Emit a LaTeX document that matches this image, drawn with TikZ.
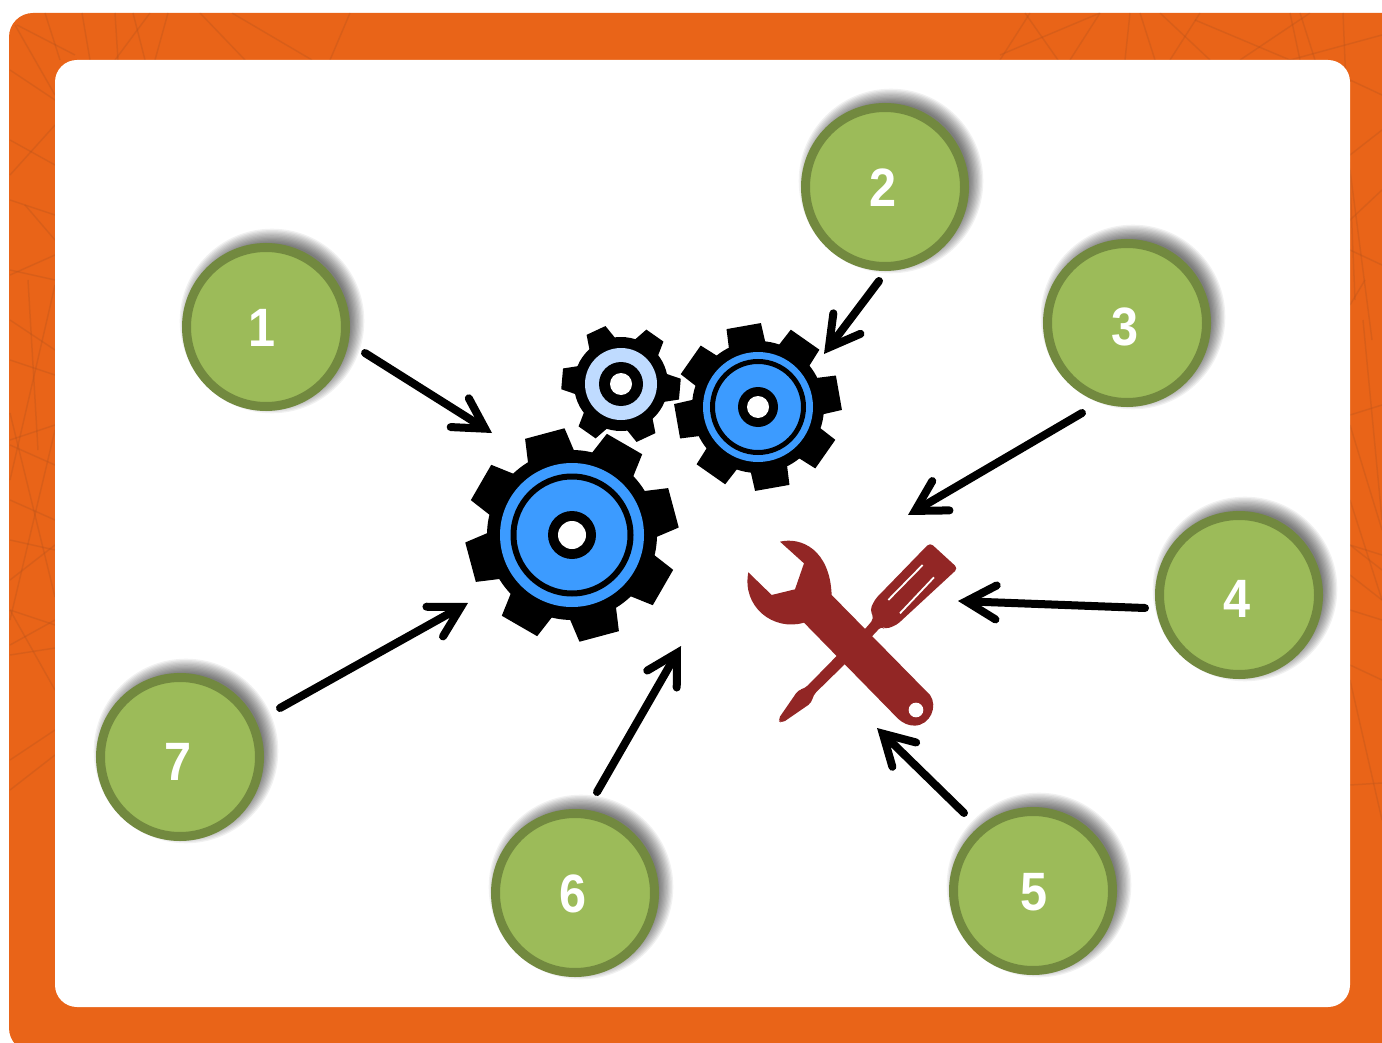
\documentclass[tikz,border=0pt]{standalone}
\usepackage{fontspec}
\setmainfont{Liberation Sans}
\usetikzlibrary{arrows.meta}

\definecolor{framecol}{HTML}{E96418}
\definecolor{scratchcol}{HTML}{B4521C}
\definecolor{ballfill}{HTML}{9CBB59}
\definecolor{ballline}{HTML}{72893F}
\definecolor{gearblue}{HTML}{3C9BFF}
\definecolor{gearpale}{HTML}{BFDBFF}
\definecolor{toolred}{HTML}{922625}

\tikzset{
	ball/.style={circle, draw=ballline, fill=ballfill, line width=9pt, minimum size=159pt, inner sep=0pt},
	digitlabel/.style={text=white, inner sep=0pt, font=\fontsize{54}{54}\selectfont\bfseries},
	arrowline/.style={line width=8pt, line cap=round, -{Straight Barb[length=30pt,width=34pt,line cap=round]}},
	scratch/.style={scratchcol, line width=1.5pt, opacity=.3}
}

% centre, root and tip radius, teeth, turn, half angles of a tooth
\newcommand{\gear}[8]{%
	\fill (#1,#2) circle (#3);
	\foreach \k in {1,...,#5}{
		\pgfmathsetmacro{\ang}{-(#6+(\k-1)*360/#5)}
		\fill[shift={(#1,#2)}] (\ang-#7:#3-1) -- (\ang-#8:#4) -- (\ang+#8:#4) -- (\ang+#7:#3-1) -- cycle;
	}
}

\begin{document}
\begin{tikzpicture}[x=1pt, y=-1pt]

\useasboundingbox (0,0) rectangle (1382,1043);
\clip (0,0) rectangle (1382,1043);
\fill[white] (0,0) rectangle (1382,1043);

% frame with its scratches
\begin{scope}
\clip[rounded corners=24pt] (9,13) rectangle (1420,1052);
\fill[framecol] (0,0) rectangle (1382,1043);
\foreach \xa/\ya/\xb/\yb in {45/13/60/60, 82/13/90/60, 115/13/118/60, 133/13/145/60, 150/13/115/60, 168/13/155/60,
	200/13/245/60, 232/13/312/60, 350/13/330/60, 17/25/75/55, 15/25/55/95, 10/70/55/100, 10/140/55/165,
	10/175/55/125, 10/200/55/215, 25/205/55/240, 10/275/55/255, 10/270/55/280, 10/320/55/350, 10/360/55/375,
	55/285/10/480, 28/280/38/450, 10/440/55/425, 10/445/55/465, 10/413/55/597, 55/430/10/620, 10/500/55/520,
	10/540/55/550, 10/580/55/545, 10/610/55/625, 10/645/55/620, 10/655/55/648, 10/610/55/690, 10/760/55/730,
	10/790/55/755, 1000/60/1030/13, 1025/13/1058/60, 1000/55/1100/13, 1070/60/1100/13, 1125/60/1130/13,
	1140/13/1155/60, 1160/13/1210/60, 1170/60/1200/13, 1195/20/1290/60, 1240/60/1310/13, 1290/13/1300/60,
	1300/13/1315/60, 1290/60/1382/35, 1343/13/1355/300, 1350/80/1382/95, 1350/155/1382/130, 1350/170/1372/340,
	1350/220/1382/190, 1350/250/1382/265, 1350/305/1365/280, 1350/415/1382/405, 1363/320/1382/520,
	1350/425/1382/530, 1350/500/1382/600, 1350/545/1382/555, 1350/545/1382/570, 1350/575/1382/600,
	1350/610/1382/620, 1350/665/1382/680, 1350/680/1382/820, 1350/785/1382/783}
	\draw[scratch] (\xa,\ya) -- (\xb,\yb);
\end{scope}
\fill[white, rounded corners=22pt] (55,60) rectangle (1350,1007);

% gears
\gear{572}{535}{85}{107}{8}{15}{16.5}{11}
\fill[gearblue] (572,535) circle (72);
\draw[line width=6pt] (572,535) circle (58.5);
\fill (572,535) circle (24);
\fill[white] (572,535) circle (14);

\gear{758}{407}{66}{84}{8}{10}{16.5}{12}
\fill[gearblue] (758,407) circle (55);
\draw[line width=5pt] (758,407) circle (45.5);
\fill (758,407) circle (20);
\fill[white] (758,407) circle (11);

\gear{621}{384}{47}{60}{6}{-5}{18}{10}
\fill[gearpale] (621,384) circle (36);
\fill (621,384) circle (22);
\fill[white] (621,384) circle (11);

% tools
\begin{scope}[shift={(730,520)}, x=.3333pt, y=-.3333pt]
\fill[toolred, rounded corners=4pt] (600,68) -- (684,145) -- (500,315) -- (465,328) -- (455,318) -- (430,345)
	-- (345,432) -- (250,525) -- (245,548) -- (155,610) -- (143,600) -- (205,510) -- (225,505) -- (320,408)
	-- (410,322) -- (432,295) -- (420,270) -- (435,238) -- cycle;
\draw[white, line width=1.8pt] (475,240) -- (578,135) (510,280) -- (612,172);
\fill[toolred] (150,65) .. controls (215,50) and (300,90) .. (305,225) -- (600,525)
	.. controls (625,560) and (600,615) .. (555,617) .. controls (535,617) and (520,610) .. (505,597)
	-- (222,308) .. controls (130,335) and (35,260) .. (55,157) -- (125,225) -- (195,208) -- (222,130) -- cycle;
\fill[white] (558,570) circle (22);
\end{scope}

% numbered balls
\foreach \n/\cx/\cy/\lx/\ly in {1/266/327/262/328, 2/885/187/883/188, 3/1127/323/1125/327, 4/1239/595/1237/599,
	5/1033/891/1034/892, 6/575/893/573/894, 7/180/757/178/762}{
	\foreach \k in {0,...,11}
		\fill[black, opacity=.055] (\cx+6,\cy-6) circle (78+1.3*\k);
	\node[ball] (c\n) at (\cx,\cy) {};
	\node[digitlabel] (l\n) at (\lx,\ly) {\scalebox{.9}[1]{\n}};
}

% arrows
\foreach \n/\dx/\dy/\tx/\ty in {1/99/26/492/433, 2/-6/94/824/354, 3/-45/90/908/515, 4/-94/13/958/601,
	5/-69/-78/877/728, 6/22/-101/681/646, 7/100/-49/468/603}{
	\coordinate (t\n) at (\tx,\ty);
	\draw[arrowline] ([shift={(\dx,\dy)}]c\n.center) -- (t\n);
}

\end{tikzpicture}
\end{document}
